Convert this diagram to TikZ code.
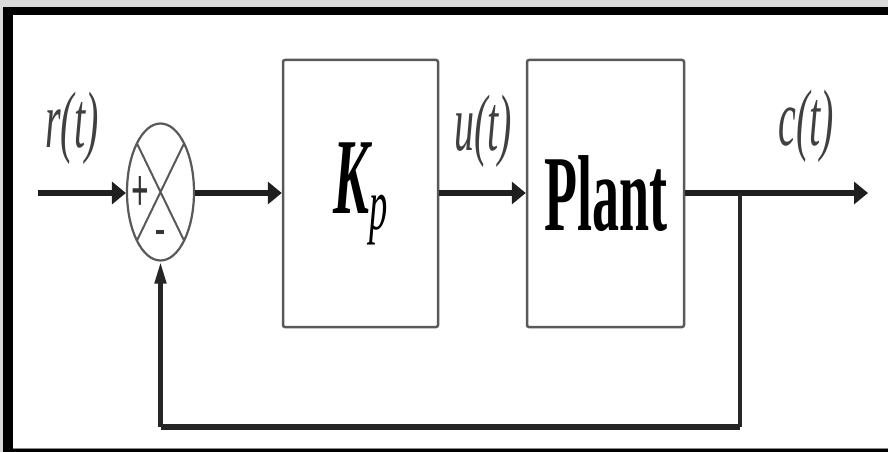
\documentclass[tikz,border=0pt]{standalone}
\usepackage{fontspec}
\setmainfont{Liberation Serif}
\usetikzlibrary{shapes.geometric,arrows.meta}
% horizontally condensed text
\newcommand{\hsq}[1]{\scalebox{0.5}[1]{#1}}
\begin{document}
\begin{tikzpicture}[x=1pt,y=-1pt,
  signal/.style={line width=6pt,draw=black!88},
  fbline/.style={line width=4.5pt,draw=black!85},
  harrow/.style={-{Triangle[length=14pt,width=22pt]}},
  varrow/.style={-{Triangle[length=22pt,width=11pt]}},
  block/.style={draw=black!65,line width=2.5pt,rounded corners=2pt,fill=white,
    inner sep=0pt,minimum height=267pt},
  sumjunc/.style={ellipse,draw=black!65,line width=2.2pt,fill=white,
    minimum width=67pt,minimum height=137pt,inner sep=0pt},
  lbl/.style={text=black!75,font=\fontsize{80}{90}\selectfont\itshape,inner sep=0pt},
  sgn/.style={text=black!80,font=\fontsize{62}{64}\selectfont\bfseries,inner sep=0pt}]
  % page and frame
  \fill[black!15] (0,0) rectangle (888,452);
  \fill[black] (3,7) rectangle (888,452);
  \fill[black!45] (13,15) rectangle (888,449);
  \fill[white] (13,15) rectangle (888,447.5);
  \useasboundingbox (0,0) rectangle (888,452);

  % blocks
  \node[sumjunc] (s) at (160.5,192) {};
  \draw[black!65,line width=2pt]
    ([shift={(-23.5,-48.5)}]s.center) -- ([shift={(23.5,48.5)}]s.center)
    ([shift={(-23.5,48.5)}]s.center) -- ([shift={(23.5,-48.5)}]s.center);
  \node[sgn] (plus) at (140,194) {\hsq{+}};
  \node[sgn] (minus) at (160,232) {\hsq{\rule{16pt}{4pt}}};

  \node[block,minimum width=155pt] (kp) at (360.5,193.5)
    {\hsq{\fontsize{108}{120}\selectfont\bfseries\itshape K\raisebox{-16pt}{\fontsize{73}{80}\selectfont\mdseries p}}};
  \node[block,minimum width=157pt] (plant) at (605.5,193.5)
    {\hsq{\fontsize{108}{120}\selectfont\bfseries Plant}};

  % signal labels
  \node[lbl] (rl) at (72,128) {\hsq{r(t)}};
  \node[lbl] (ul) at (483,131) {\hsq{u(t)}};
  \node[lbl] (cl) at (806,126) {\hsq{c(t)}};

  % connectors
  \coordinate (in) at (38,193);
  \coordinate (br) at (740,193);
  \coordinate (out) at (868,193);
  \coordinate (bot) at (740,427);
  \draw[signal,harrow] (in) -- (in -| s.west);
  \draw[signal,harrow] (s.east |- in) -- (kp.west |- in);
  \draw[signal,harrow] (kp.east |- in) -- (plant.west |- in);
  \draw[signal,harrow] (plant.east |- in) -- (out);
  \draw[fbline,line width=4pt] (br) -- (bot);
  \draw[fbline,line width=6pt] (bot) -- (bot -| s.south);
  \draw[fbline,varrow] (bot -| s.south) -- (s.south);
\end{tikzpicture}
\end{document}
